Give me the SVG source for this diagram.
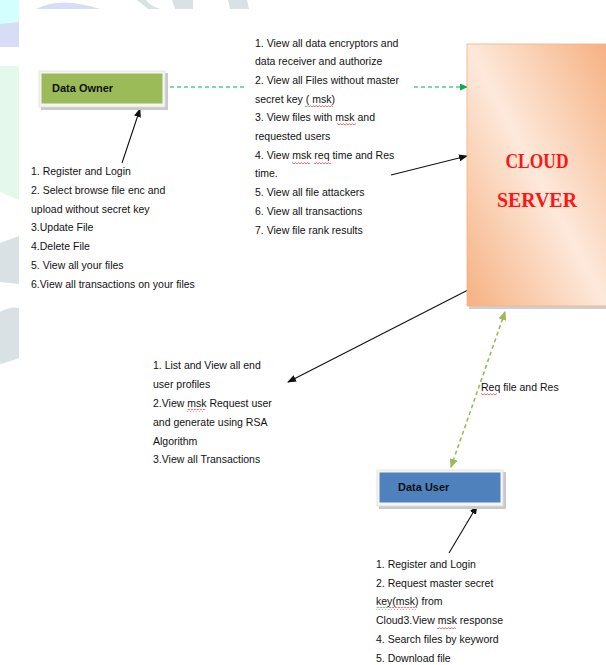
<svg xmlns="http://www.w3.org/2000/svg" width="606" height="665" viewBox="0 0 606 665">
  <style>
    .txt { font-family: "Liberation Sans", Arial, sans-serif; font-size: 10.5px; fill: #111; }
    .lbl { font-family: "Liberation Sans", Arial, sans-serif; font-size: 11px; font-weight: bold; fill: #111; }
    .cloud { font-family: "Liberation Serif", "DejaVu Serif", serif; font-size: 22px; font-weight: bold; fill: #FF1414; text-anchor: middle; }
    .link { fill: none; stroke: #111; stroke-width: 1.1; }
    .dash-green { fill: none; stroke: #00B050; stroke-width: 1.1; stroke-dasharray: 4 3; }
    .dash-lime { fill: none; stroke: #9BBB59; stroke-width: 1.6; stroke-dasharray: 4 3; }
    .wm-grey { fill: #D9E1E4; }
  </style>
  <defs>
    <marker id="arrowBlack" markerUnits="userSpaceOnUse" markerWidth="9" markerHeight="7" refX="8" refY="3.5" orient="auto">
      <path d="M0,0 L9,3.5 L0,7 z" fill="#111"/>
    </marker>
    <marker id="arrowGreen" markerUnits="userSpaceOnUse" markerWidth="8" markerHeight="7" refX="7" refY="3.5" orient="auto">
      <path d="M0,0 L8,3.5 L0,7 z" fill="#00B050"/>
    </marker>
    <marker id="arrowLime" markerUnits="userSpaceOnUse" markerWidth="9" markerHeight="8" refX="8" refY="4" orient="auto-start-reverse">
      <path d="M0,0 L9,4 L0,8 z" fill="#9BBB59"/>
    </marker>
    <linearGradient id="serverFill" x1="1" y1="0" x2="0" y2="1">
      <stop offset="0" stop-color="#F6B182"/>
      <stop offset="0.5" stop-color="#FDE9DB"/>
      <stop offset="1" stop-color="#F6B182"/>
    </linearGradient>
    <pattern id="wavyRed" patternUnits="userSpaceOnUse" width="3" height="3">
      <path d="M0,2.2 L1.5,0.6 L3,2.2" fill="none" stroke="#E02020" stroke-width="0.7"/>
    </pattern>
    <pattern id="wavyGreen" patternUnits="userSpaceOnUse" width="3" height="3">
      <path d="M0,2.2 L1.5,0.6 L3,2.2" fill="none" stroke="#2E9A2E" stroke-width="0.7"/>
    </pattern>
  </defs>

  <!-- page background with faint letterhead artwork in the margin -->
  <rect x="0" y="0" width="606" height="665" fill="#FFFFFF"/>
  <g id="margin-art">
    <rect x="0" y="0" width="19" height="24" fill="#D4FFFF"/>
    <path d="M0,24 L19,22 L19,47 L0,47 z" fill="#D8DDF6"/>
    <path d="M36,9 Q60,-4 100,9 z" fill="#D8DDF6"/>
    <rect x="0" y="66" width="19" height="126" fill="#E4F8EC"/>
    <path d="M0,192 L19,192 L19,200 z" fill="#E4F8EC"/>
    <path d="M0,243 L19,236 L19,284 L0,282 z" class="wm-grey"/>
    <path d="M0,312 Q10,306 19,308 L19,358 Q8,362 0,364 z" class="wm-grey"/>
    <path d="M137,0 L146,0 Q150,6 160,9 L148,9 z" class="wm-grey"/>
    <path d="M172,0 L193,0 L193,9 L175,9 z" class="wm-grey"/>
    <path d="M228,0 L247,0 L249,9 L230,9 z" class="wm-grey"/>
  </g>
  <rect x="19" y="9" width="587" height="656" fill="#FFFFFF"/>

  <!-- connectors -->
  <g id="connectors">
    <line class="dash-green" x1="163" y1="87" x2="247" y2="87"/>
    <line class="dash-green" x1="414" y1="87" x2="467" y2="87" marker-end="url(#arrowGreen)"/>
    <line class="link" x1="122" y1="163" x2="140" y2="109" marker-end="url(#arrowBlack)"/>
    <line class="link" x1="391" y1="175" x2="467" y2="156" marker-end="url(#arrowBlack)"/>
    <line class="link" x1="468" y1="290" x2="288" y2="382" marker-end="url(#arrowBlack)"/>
    <line class="dash-lime" x1="505" y1="312" x2="451" y2="467" marker-start="url(#arrowLime)" marker-end="url(#arrowLime)"/>
    <line class="link" x1="449" y1="553" x2="477" y2="506" marker-end="url(#arrowBlack)"/>
  </g>

  <!-- Data Owner node -->
  <g id="data-owner">
    <rect x="41" y="73" width="127" height="37" fill="#C9C9C9"/>
    <rect x="39" y="71" width="126" height="36" fill="#F5F5F5" stroke="#DEDEDE" stroke-width="0.8"/>
    <rect x="41.5" y="73.5" width="121" height="30" fill="#9BBB59"/>
    <text class="lbl" x="52" y="92">Data Owner</text>
  </g>

  <!-- Cloud Server node -->
  <g id="cloud-server">
    <rect x="469" y="47" width="140" height="262" fill="#CFCFCF"/>
    <rect x="467" y="44" width="140" height="262" fill="url(#serverFill)" stroke="#F4B183" stroke-width="0.8"/>
    <text class="cloud" x="537" y="168" textLength="63" lengthAdjust="spacingAndGlyphs">CLOUD</text>
    <text class="cloud" x="537" y="207" textLength="80" lengthAdjust="spacingAndGlyphs">SERVER</text>
  </g>

  <!-- Data User node -->
  <g id="data-user">
    <rect x="379" y="472" width="127" height="37" fill="#C9C9C9"/>
    <rect x="377" y="470" width="126" height="36" fill="#F5F5F5" stroke="#DEDEDE" stroke-width="0.8"/>
    <rect x="379.5" y="472.5" width="121" height="30" fill="#4F81BD"/>
    <text class="lbl" x="398" y="491">Data User</text>
  </g>

  <!-- Data owner functions -->
  <g id="owner-functions">
    <text class="txt" x="31" y="175">1. Register and Login</text>
    <text class="txt" x="31" y="194">2. Select browse file enc and</text>
    <text class="txt" x="31" y="213">upload without secret key</text>
    <text class="txt" x="31" y="231">3.Update File</text>
    <text class="txt" x="31" y="250">4.Delete File</text>
    <text class="txt" x="31" y="269">5. View all your files</text>
    <text class="txt" x="31" y="288">6.View all transactions on your files</text>
  </g>

  <!-- Cloud server functions -->
  <g id="server-functions">
    <text class="txt" x="255" y="47">1. View all data encryptors and</text>
    <text class="txt" x="255" y="65">data receiver and authorize</text>
    <text class="txt" x="255" y="84">2. View all Files without master</text>
    <text class="txt" x="255" y="103">secret key ( msk)</text>
    <text class="txt" x="255" y="121">3. View files with msk and</text>
    <text class="txt" x="255" y="140">requested users</text>
    <text class="txt" x="255" y="159">4. View msk req time and Res</text>
    <text class="txt" x="255" y="177">time.</text>
    <text class="txt" x="255" y="196">5. View all file attackers</text>
    <text class="txt" x="255" y="215">6. View all transactions</text>
    <text class="txt" x="255" y="234">7. View file rank results</text>
  </g>

  <!-- Key authority functions -->
  <g id="authority-functions">
    <text class="txt" x="153" y="369">1. List and View all end</text>
    <text class="txt" x="153" y="388">user profiles</text>
    <text class="txt" x="153" y="407">2.View msk Request user</text>
    <text class="txt" x="153" y="426">and generate using RSA</text>
    <text class="txt" x="153" y="445">Algorithm</text>
    <text class="txt" x="153" y="463">3.View all Transactions</text>
  </g>

  <text class="txt" x="481" y="391">Req file and Res</text>

  <!-- Data user functions -->
  <g id="user-functions">
    <text class="txt" x="376" y="568">1. Register and Login</text>
    <text class="txt" x="376" y="587">2. Request master secret</text>
    <text class="txt" x="376" y="605">key(msk) from</text>
    <text class="txt" x="376" y="624">Cloud3.View msk response</text>
    <text class="txt" x="376" y="643">4. Search files by keyword</text>
    <text class="txt" x="376" y="662">5. Download file</text>
  </g>

  <!-- spell-check underlines -->
  <g id="underlines">
    <rect x="305" y="104" width="5" height="3" fill="url(#wavyGreen)"/>
    <rect x="310" y="104" width="23" height="3" fill="url(#wavyRed)"/>
    <rect x="337" y="123" width="19" height="3" fill="url(#wavyRed)"/>
    <rect x="292" y="161" width="18" height="3" fill="url(#wavyRed)"/>
    <rect x="314" y="161" width="17" height="3" fill="url(#wavyRed)"/>
    <rect x="187" y="409" width="18" height="3" fill="url(#wavyRed)"/>
    <rect x="481" y="393" width="16" height="3" fill="url(#wavyRed)"/>
    <rect x="376" y="607" width="14" height="3" fill="url(#wavyGreen)"/>
    <rect x="390" y="607" width="27" height="3" fill="url(#wavyRed)"/>
    <rect x="437" y="626" width="19" height="3" fill="url(#wavyRed)"/>
  </g>
</svg>
